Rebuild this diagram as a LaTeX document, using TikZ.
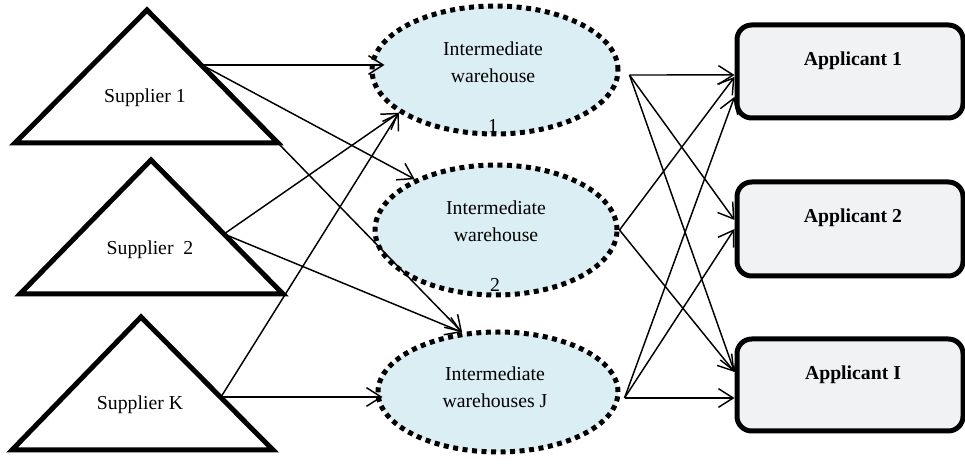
\documentclass[tikz,border=0pt]{standalone}
\usepackage{fontspec}
\setmainfont{Liberation Serif}
\usetikzlibrary{shapes.geometric,arrows.meta}
\definecolor{storefill}{RGB}{219,238,243}
\definecolor{clientfill}{RGB}{241,242,244}
\begin{document}
\begin{tikzpicture}[x=0.75pt,y=-0.75pt,
  supplier/.style={draw=black,line width=3.75pt,line join=miter,fill=white},
  label/.style={font=\fontsize{14.8pt}{20pt}\selectfont,inner sep=0pt},
  applabel/.style={font=\fontsize{14.8pt}{20pt}\selectfont\bfseries,inner sep=0pt,anchor=base},
  store/.style={ellipse,draw=black,fill=storefill,line width=3.75pt,
    dash pattern=on 3.75pt off 3.4pt,inner sep=0pt},
  client/.style={rectangle,rounded corners=11pt,draw=black,line width=3.75pt,
    fill=clientfill,minimum width=169.5pt,inner sep=0pt},
  flow/.style={-{Straight Barb[length=11pt,width=14pt]},line width=1.1pt},
]
\fill[white] (0,0) rectangle (965,466);
\useasboundingbox (0,0) rectangle (965,466);

% suppliers
\draw[supplier] (147,10) -- (15,143) -- (278,143) -- cycle;
\draw[supplier] (151,160) -- (20,294) -- (283,294) -- cycle;
\draw[supplier] (141,317) -- (12,450) -- (273,450) -- cycle;
\node[label,anchor=base] (s1t) at (145,103) {Supplier 1};
\node[label,anchor=base] (s2t) at (150,255) {Supplier\ \ 2};
\node[label,anchor=base] (sKt) at (140,410) {Supplier K};
\coordinate (s1o) at (202,65);
\coordinate (s2o) at (224,234);
\coordinate (sKo) at (221,397);

% intermediate warehouses
\node[store,minimum width=184.5pt,minimum height=96pt] (e1) at (495,70) {};
\node[store,minimum width=181.5pt,minimum height=97.5pt] (e2) at (496,230) {};
\node[store,minimum width=180pt,minimum height=90pt] (e3) at (498,392) {};
\node[label,align=center] (e1t) at (493,62) {Intermediate\\warehouse};
\node[label,anchor=base] (e1n) at (493,133) {1};
\node[label,align=center] (e2t) at (496,221) {Intermediate\\warehouse};
\node[label,anchor=base] (e2n) at (495,292) {2};
\node[label,align=center] (e3t) at (495,387) {Intermediate\\warehouses J};
\coordinate (e1o) at ([xshift=6.75pt,yshift=-3.75pt]e1.east);
\coordinate (e2o) at (e2.east);
\coordinate (e3o) at ([xshift=3pt,yshift=-4.5pt]e3.east);

% applicants
\node[client,minimum height=69.75pt] (a1) at (850,71.5) {};
\node[client,minimum height=70.5pt] (a2) at (850,229) {};
\node[client,minimum height=69pt] (a3) at (850,385) {};
\node[applabel] (a1t) at (853,66) {Applicant 1};
\node[applabel] (a2t) at (853,223) {Applicant 2};
\node[applabel] (a3t) at (853,380) {Applicant I};

% supplier -> warehouse flows
\draw[flow] (s1o) -- ([xshift=11.25pt,yshift=3.75pt]e1.west);
\draw[flow] (s1o) -- (e2.148);
\draw[flow] (s1o) -- (e3.121);
\draw[flow] (s2o) -- (e1.204);
\draw[flow] (s2o) -- (e3.121);
\draw[flow] (sKo) -- (e1.204);
\draw[flow] (sKo) -- ([xshift=5.25pt,yshift=-3.75pt]e3.west);

% warehouse -> applicant flows
\draw[flow] (e1o) -- ([yshift=-2.6pt]a1.west);
\draw[flow] (e1o) -- ([yshift=6.75pt]a2.west);
\draw[flow] (e1o) -- ([yshift=9.75pt]a3.west);
\draw[flow] (e2o) -- ([yshift=-4.1pt]a1.west);
\draw[flow] (e2o) -- ([yshift=9.75pt]a3.west);
\draw[flow] (e3o) -- ([yshift=-19pt]a1.west);
\draw[flow] (e3o) -- (a2.west);
\draw[flow] (e3o) -- ([yshift=-9.75pt]a3.west);
\end{tikzpicture}
\end{document}
